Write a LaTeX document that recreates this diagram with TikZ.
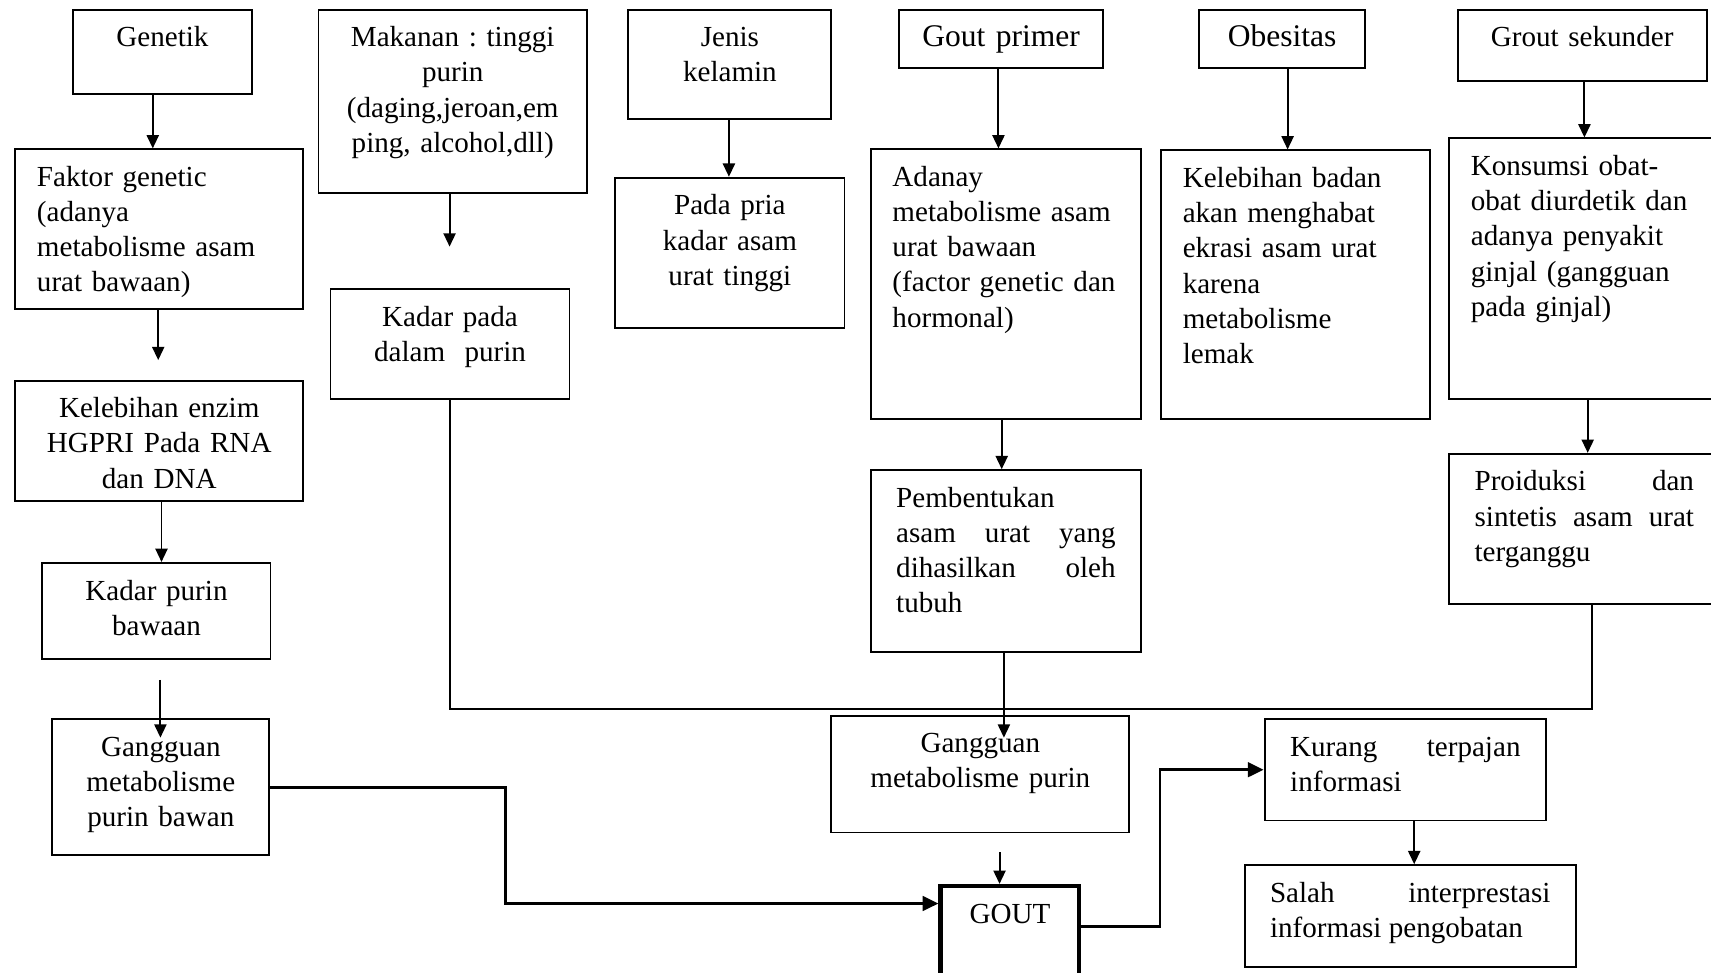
\documentclass[tikz,border=0pt]{standalone}
\usepackage{fontspec}
\setmainfont{Liberation Serif}
\usetikzlibrary{arrows.meta}
\tikzstyle{labeledBox}=[draw, line width=0.8pt, anchor=north west, inner xsep=9pt, inner ysep=0pt, text height=15.3pt, font=\fontsize{12pt}{14.5pt}\selectfont\frenchspacing]
\tikzstyle{goutBox}=[labeledBox, line width=1.8pt]
\tikzstyle{bigText}=[font=\fontsize{13pt}{15.5pt}\selectfont\frenchspacing]

\begin{document}
\begin{tikzpicture}[x=0.45pt, y=-0.45pt]
\tikzstyle{arrowEdge}=[line width=0.8pt, -{Triangle[length=5.5pt, width=5pt]}]
\tikzstyle{thickEdge}=[line width=1.2pt, -{Triangle[length=6.5pt, width=6pt]}]
\tikzstyle{plainEdge}=[line width=0.8pt]
\useasboundingbox (0,0) rectangle (1568,891);
\clip (0,0) rectangle (1568,891);
% top row
\node[labeledBox, align=center, text width=55.8pt, text depth=19.35pt] (b0) at (66,8) {Genetik};
\node[labeledBox, align=center, text width=92.7pt, text depth=60.3pt] (b1) at (291,8) {Makanan : tinggi\\purin\\(daging,jeroan,em\\ping, alcohol,dll)};
\node[labeledBox, align=center, text width=65.7pt, text depth=29.7pt] (b2) at (575,8) {Jenis\\kelamin};
\node[labeledBox, bigText, align=center, text width=66.15pt, text depth=8.55pt] (b3) at (823,8) {Gout primer};
\node[labeledBox, bigText, align=center, text width=50.4pt, text depth=8.55pt] (b4) at (1098,8) {Obesitas};
\node[labeledBox, align=center, text width=84.6pt, text depth=13.95pt] (b5) at (1335,8) {Grout sekunder};
% second row
\node[labeledBox, align=left, text width=100.8pt, text depth=50.4pt] (b6) at (13,136) {Faktor genetic\\(adanya\\metabolisme asam\\urat bawaan)};
\node[labeledBox, align=center, text width=80.55pt, text depth=30.15pt] (b7) at (302,264) {Kadar pada\\dalam\ \ purin};
\node[labeledBox, align=center, text width=76.5pt, text depth=46.8pt] (b8) at (563,162) {Pada pria\\kadar asam\\urat tinggi};
\node[labeledBox, align=left, text width=93.6pt, text depth=95.85pt] (b9) at (797,136) {Adanay\\metabolisme asam\\urat bawaan\\(factor genetic dan\\hormonal)};
\node[labeledBox, align=left, text width=93.15pt, text depth=95.4pt] (b10) at (1063,137) {Kelebihan badan\\akan menghabat\\ekrasi asam urat\\karena\\metabolisme\\lemak};
\node[labeledBox, align=left, text width=93.6pt, text depth=92.25pt] (b11) at (1327,126) {Konsumsi obat-\\obat diurdetik dan\\adanya penyakit\\ginjal (gangguan\\pada ginjal)};
% lower boxes
\node[labeledBox, align=center, text width=100.8pt, text depth=34.2pt] (b12) at (13,348) {Kelebihan enzim\\HGPRI Pada RNA\\dan DNA};
\node[labeledBox, align=justify, text width=90.5pt, minimum width=111.6pt, text depth=59.85pt] (b13) at (797,430) {Pembentukan\\asam urat yang\linebreak dihasilkan oleh\linebreak tubuh};
\node[labeledBox, align=justify, text width=90.5pt, minimum width=111.6pt, text depth=46.8pt] (b14) at (1327,415) {Proiduksi dan\linebreak sintetis asam urat\linebreak terganggu};
\node[labeledBox, align=center, text width=76.05pt, text depth=24.3pt] (b15) at (38,515) {Kadar purin\\bawaan};
\node[labeledBox, align=center, text width=71.55pt, text depth=40.95pt] (b16) at (47,658) {Gangguan\\metabolisme\\purin bawan};
\node[labeledBox, align=center, text width=104.85pt, text depth=32.85pt] (b17) at (761,655) {Gangguan\\metabolisme purin};
\node[goutBox, align=center, text width=39.15pt, text depth=38.7pt] (b18) at (860,810) {GOUT};
\node[labeledBox, align=justify, text width=95pt, minimum width=116.1pt, text depth=26.55pt] (b19) at (1158,658) {Kurang terpajan\linebreak informasi};
\node[labeledBox, align=justify, text width=115.65pt, minimum width=136.35pt, text depth=26.55pt] (b20) at (1140,792) {Salah interprestasi\linebreak informasi pengobatan};
% free arrow ends
\coordinate (c0) at (145,330);
\coordinate (c1) at (147,623);
\coordinate (c2) at (147,676);
\coordinate (c3) at (412,226);
\coordinate (c4) at (920,676);
\coordinate (c5) at (916,781);
% connectors
\draw[arrowEdge] (b0.south -| 140,0) -- (b6.north -| 140,0);
\draw[arrowEdge] (b6.south -| c0) -- (c0);
\draw[arrowEdge] (b12.south -| 148,0) -- (b15.north -| 148,0);
\draw[arrowEdge] (c1) -- (c2);
\draw[arrowEdge] (b1.south -| c3) -- (c3);
\draw[arrowEdge] (b2.south -| 668,0) -- (b8.north -| 668,0);
\draw[arrowEdge] (b3.south -| 915,0) -- (b9.north -| 915,0);
\draw[arrowEdge] (b4.south -| 1180,0) -- (b10.north -| 1180,0);
\draw[arrowEdge] (b5.south -| 1452,0) -- (b11.north -| 1452,0);
\draw[arrowEdge] (b11.south -| 1455,0) -- (b14.north -| 1455,0);
\draw[arrowEdge] (b9.south -| 918,0) -- (b13.north -| 918,0);
\draw[plainEdge] (b7.south) -- ++(0,283) -| (b14.south -| 1459,0);
\draw[arrowEdge] (b13.south -| c4) -- (c4);
\draw[arrowEdge] (c5) -- (c5 |- b18.north);
\draw[thickEdge] (b16.east) -| (463,828) -- (b18.west |- 0,828);
\draw[thickEdge] (b18.east |- 0,849) -- (1063,849) |- (b19.west);
\draw[arrowEdge] (b19.south -| 1296,0) -- (b20.north -| 1296,0);
\end{tikzpicture}
\end{document}
